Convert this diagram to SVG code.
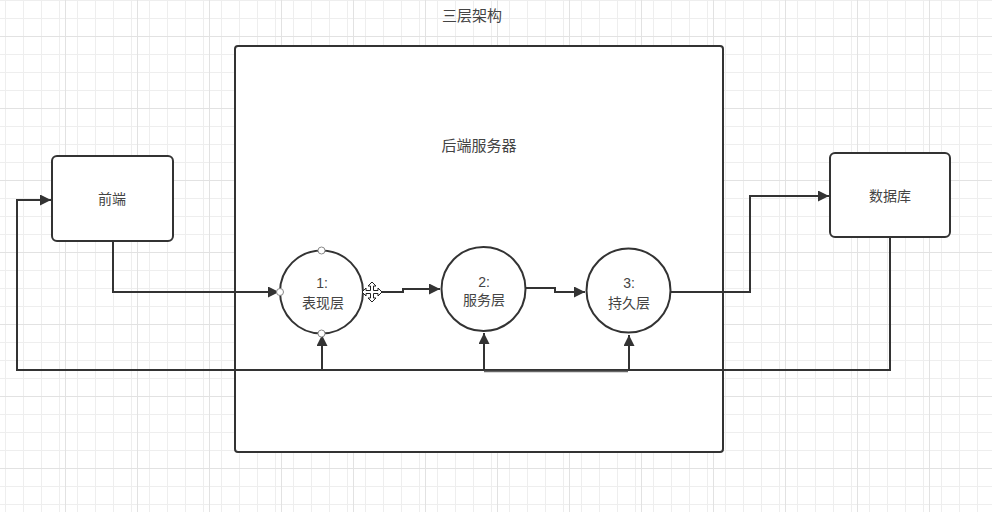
<svg xmlns="http://www.w3.org/2000/svg" width="992" height="512" viewBox="0 0 992 512">
<defs>
<pattern id="gminor" x="5" y="0" width="18" height="18" patternUnits="userSpaceOnUse">
<path d="M0,0.5 H18 M0.5,0 V18" fill="none" stroke="#eeeeee" stroke-width="1"/>
</pattern>
<pattern id="gmajor" x="-7" y="36" width="72" height="72" patternUnits="userSpaceOnUse">
<path d="M0,0.5 H72 M0.5,0 V72" fill="none" stroke="#e2e2e2" stroke-width="1"/>
</pattern>
<marker id="arr" viewBox="0 0 10 10" refX="10" refY="5" markerWidth="11" markerHeight="11" markerUnits="userSpaceOnUse" orient="auto">
<path d="M0,0 L10,5 L0,10 Z" fill="#333333"/>
</marker>
</defs>
<style>
.box{fill:#ffffff;stroke:#333333;stroke-width:2}
.edge{fill:none;stroke:#333333;stroke-width:2}
.t{font-family:"Liberation Sans","Noto Sans CJK SC",sans-serif;font-size:14px;fill:#444444;text-anchor:middle;dominant-baseline:central}
.h{fill:#ffffff;stroke:#888888;stroke-width:1}
</style>
<rect width="992" height="512" fill="#ffffff"/>
<rect width="992" height="512" fill="url(#gminor)"/>
<rect width="992" height="512" fill="url(#gmajor)"/>

<text class="t" x="472" y="15" style="font-size:15px">三层架构</text>

<g id="backend">
<rect class="box" x="235" y="46" width="488" height="406" rx="3"/>
<text class="t" x="479" y="145" style="font-size:15px">后端服务器</text>
</g>

<g id="frontend">
<rect class="box" x="52" y="156" width="121" height="85" rx="5"/>
<text class="t" x="112" y="199">前端</text>
</g>

<g id="database">
<rect class="box" x="830" y="153" width="120" height="84" rx="5"/>
<text class="t" x="890" y="196">数据库</text>
</g>

<g id="connectors">
<path class="edge" d="M113,241 V292 H279" marker-end="url(#arr)"/>
<path class="edge" d="M363,292 H403 V289 H440" marker-end="url(#arr)"/>
<path class="edge" d="M526,288 H555 V292 H585" marker-end="url(#arr)"/>
<path class="edge" d="M671,292 H750 V196 H829" marker-end="url(#arr)"/>
<path class="edge" d="M890,237 V370 H17 V200 H51" marker-end="url(#arr)"/>
<path d="M484,371.5 H628" fill="none" stroke="#666666" stroke-width="1.5"/>
<path class="edge" d="M322,370 V335" marker-end="url(#arr)"/>
<path class="edge" d="M484,370 V333" marker-end="url(#arr)"/>
<path class="edge" d="M629,370 V335" marker-end="url(#arr)"/>
</g>

<g id="layer1">
<circle class="box" cx="321.5" cy="292" r="41.5"/>
<text class="t" x="322" y="283">1:</text>
<text class="t" x="323" y="303">表现层</text>
<circle class="h" cx="321.5" cy="250.5" r="3.5"/>
<circle class="h" cx="280" cy="292" r="3.5"/>
<circle class="h" cx="321.5" cy="333.5" r="3.5"/>
</g>

<g id="layer2">
<circle class="box" cx="483.5" cy="289" r="42"/>
<text class="t" x="484" y="282">2:</text>
<text class="t" x="484" y="300">服务层</text>
</g>

<g id="layer3">
<circle class="box" cx="628.5" cy="290.5" r="42"/>
<text class="t" x="629" y="283">3:</text>
<text class="t" x="629" y="303">持久层</text>
</g>

<g id="cursor">
<path d="M372,282 L376,286 L373.5,286 L373.5,290.5 L378,290.5 L378,288 L382,292 L378,296 L378,293.5 L373.5,293.5 L373.5,298 L376,298 L372,302 L368,298 L370.5,298 L370.5,293.5 L366,293.5 L366,296 L362,292 L366,288 L366,290.5 L370.5,290.5 L370.5,286 L368,286 Z" fill="#ffffff" stroke="#222222" stroke-width="1"/>
</g>
</svg>
